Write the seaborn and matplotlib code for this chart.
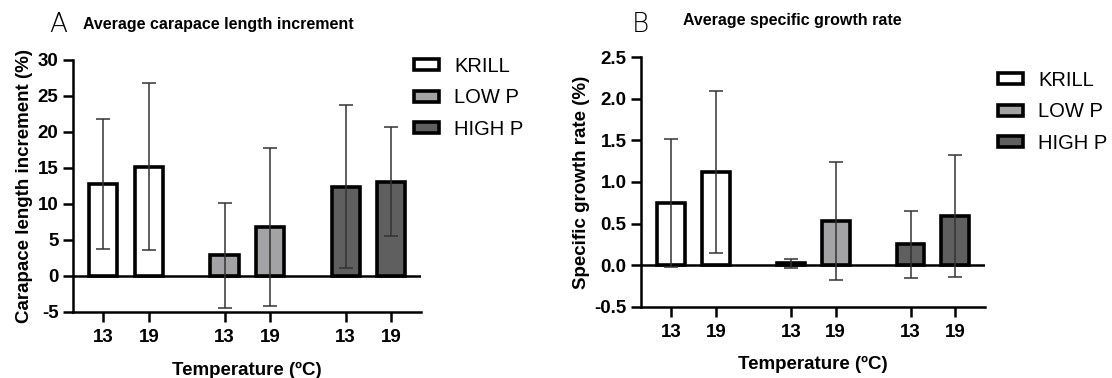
import pandas as pd
import seaborn as sns
import matplotlib.pyplot as plt
from matplotlib.patches import Patch

diets = ['KRILL', 'LOW P', 'HIGH P']
temps = ['13', '19']
colors = ['#ffffff', '#a3a3a6', '#5f5f60']

# carapace length increment (%), mean and sd
cl_mean = [12.8, 15.2, 2.9, 6.8, 12.4, 13.1]
cl_sd = [9.0, 11.6, 7.3, 11.0, 11.3, 7.6]

# specific growth rate (%), mean and sd
sgr_mean = [0.75, 1.12, 0.02, 0.53, 0.25, 0.59]
sgr_sd = [0.77, 0.97, 0.05, 0.71, 0.40, 0.73]

sns.set_style('ticks')
plt.rcParams['font.family'] = ['Liberation Sans', 'DejaVu Sans']
plt.rcParams['axes.unicode_minus'] = False
plt.rcParams['text.color'] = 'black'
plt.rcParams['axes.labelcolor'] = 'black'
plt.rcParams['xtick.color'] = 'black'
plt.rcParams['ytick.color'] = 'black'
plt.rcParams['axes.edgecolor'] = 'black'

group_step = 2.67
rows = []
for gi, d in enumerate(diets):
    for ti, t in enumerate(temps):
        rows.append({'diet': d, 'temp': t, 'pos': gi * group_step + ti})
df = pd.DataFrame(rows)
df['cl'] = cl_mean
df['cl_sd'] = cl_sd
df['sgr'] = sgr_mean
df['sgr_sd'] = sgr_sd

fig = plt.figure(figsize=(11.12, 3.78), dpi=100)
axA = fig.add_axes([73 / 1112, 1 - 312 / 378, 348 / 1112, 252 / 378])
axB = fig.add_axes([641 / 1112, 1 - 306.7 / 378, 344 / 1112, 249.4 / 378])

lw = 1.8
fs = 13.5


def draw(ax, col, sdcol, ylim, yticks, ylabel):
    ax.axhline(0, color='black', lw=lw, zorder=1)
    sns.barplot(data=df, x='pos', y=col, hue='diet', palette=colors, native_scale=True,
                dodge=False, width=0.62, edgecolor='black', linewidth=2.6,
                errorbar=None, legend=False, ax=ax, zorder=2)
    ax.errorbar(df['pos'], df[col], yerr=df[sdcol], fmt='none', ecolor='#333333',
                elinewidth=1.1, capsize=5, capthick=1.1, zorder=3)
    ax.set_xlim(-0.67, 7.0)
    ax.set_ylim(*ylim)
    ax.set_yticks(yticks)
    ax.set_xticks(df['pos'])
    ax.set_xticklabels(df['temp'])
    ax.set_xlabel('Temperature (ºC)', fontsize=fs, fontweight='bold', labelpad=11)
    ax.set_ylabel(ylabel, fontsize=fs, fontweight='bold', labelpad=3)
    for lab in ax.get_xticklabels() + ax.get_yticklabels():
        lab.set_fontweight('bold')
        lab.set_fontsize(fs)
    sns.despine(ax=ax)
    for s in ['left', 'bottom']:
        ax.spines[s].set_linewidth(lw)
    ax.tick_params(length=7.5, width=lw, pad=3)
    ax.tick_params(axis='x', pad=5)


draw(axA, 'cl', 'cl_sd', (-5, 30), [-5, 0, 5, 10, 15, 20, 25, 30],
     'Carapace length increment (%)')
draw(axB, 'sgr', 'sgr_sd', (-0.5, 2.5), [-0.5, 0, 0.5, 1.0, 1.5, 2.0, 2.5],
     'Specific growth rate (%)')
axB.set_yticklabels(['-0.5', '0.0', '0.5', '1.0', '1.5', '2.0', '2.5'],
                    fontweight='bold', fontsize=fs)

handles = [Patch(facecolor=c, edgecolor='black', linewidth=2.6) for c in colors]
for ax, x, y in [(axA, 414, 57), (axB, 998, 71)]:
    ax.legend(handles, diets, loc='upper left', bbox_to_anchor=(x / 1112, 1 - y / 378),
              bbox_transform=fig.transFigure, frameon=False, fontsize=14.5,
              handlelength=1.25, handleheight=0.45, labelspacing=0.62, handletextpad=0.75,
              borderpad=0, borderaxespad=0)

fig.text(49 / 1112, 1 - 24 / 378, 'A', fontsize=19, va='center', family=['DejaVu Sans'],
         fontweight='ultralight')
fig.text(83 / 1112, 1 - 25 / 378, 'Average carapace length increment', fontsize=11.5,
         fontweight='bold', va='center')
fig.text(632 / 1112, 1 - 24 / 378, 'B', fontsize=19, va='center', family=['DejaVu Sans'],
         fontweight='ultralight')
fig.text(683 / 1112, 1 - 20 / 378, 'Average specific growth rate', fontsize=11.5,
         fontweight='bold', va='center')

fig.savefig('out.png', dpi=100)
